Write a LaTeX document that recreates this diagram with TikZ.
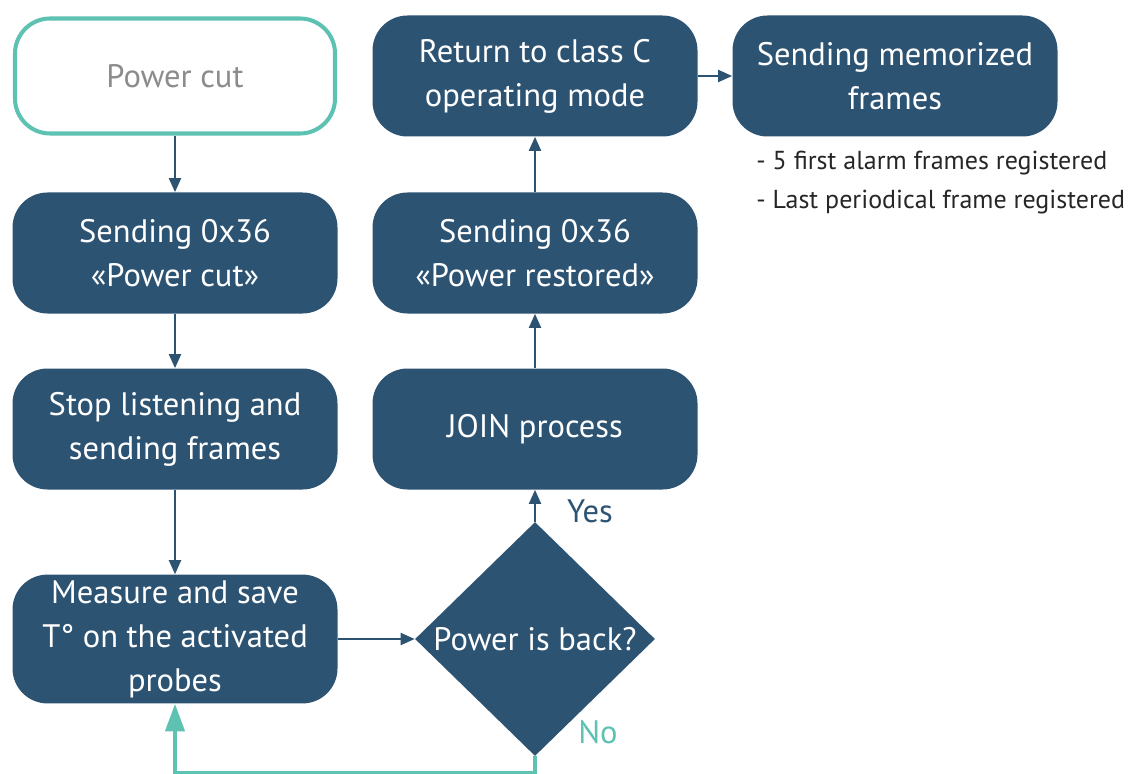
\documentclass[tikz,border=0pt]{standalone}
\usepackage{fontspec}
\setmainfont{PT Sans}
\usetikzlibrary{shapes.geometric,arrows.meta}
\definecolor{darkBlue}{HTML}{2D5373}
\definecolor{teal}{HTML}{5EC2B2}
\begin{document}
\begin{tikzpicture}[boxStyle/.style={rectangle, rounded corners=0.7cm, fill=darkBlue, text=white, minimum width=6.5cm, minimum height=2.42cm, align=center, font=\fontsize{18.5}{25}\selectfont},
                    startStyle/.style={boxStyle, fill=white, draw=teal, line width=2.3pt, text=black!45, minimum width=6.4cm, minimum height=2.3cm},
                    decisionStyle/.style={diamond, fill=darkBlue, minimum width=4.8cm, minimum height=4.68cm, inner sep=0pt},
                    arrowStyle/.style={draw=darkBlue, line width=1.1pt, -{Triangle[length=0.28cm, width=0.24cm]}},
                    loopStyle/.style={draw=teal, line width=2.3pt, -{Triangle[length=0.55cm, width=0.38cm]}}]
                    \useasboundingbox (0, 0) rectangle (22.7, -15.48);

                    \node[startStyle] (powerCut)  at ( 3.5, -1.52) {Power cut};
                    \node[boxStyle]   (sendCut)   at ( 3.5, -5.06) {Sending 0x36\\«Power cut»};
                    \node[boxStyle]   (stopListen) at ( 3.5, -8.58) {Stop listening and\\sending frames};
                    \node[boxStyle]   (measure)   at ( 3.5, -12.78) {Measure and save\\T° on the activated\\probes};

                    \node[decisionStyle, label={[text=white, font=\fontsize{18.5}{25}\selectfont]center:Power is back?}] (isBack) at (10.7, -12.78) {};

                    \node[boxStyle]   (join)      at (10.7, -8.58) {JOIN process};
                    \node[boxStyle]   (sendBack)  at (10.7, -5.06) {Sending 0x36\\«Power restored»};
                    \node[boxStyle]   (classC)    at (10.7, -1.52) {Return to class C\\operating mode};
                    \node[boxStyle]   (memFrames) at (17.9, -1.52) {Sending memorized\\frames};

                    \node[anchor=west, align=left, text=black!85, font=\fontsize{14.8}{22}\selectfont, inner sep=0pt] (notes) at (15.12, -3.65) {- 5 first alarm frames registered\\- Last periodical frame registered};

                    \node[text=darkBlue, font=\fontsize{18.5}{25}\selectfont] (yesLabel) at (11.8, -10.22) {Yes};
                    \node[text=teal, font=\fontsize{18.5}{25}\selectfont] (noLabel) at (11.96, -14.64) {No};

                    \coordinate (loopRight) at (10.7, -15.46);
                    \coordinate (loopLeft)  at ( 3.5, -15.46);

                    \draw[arrowStyle] (powerCut.south) -- (sendCut.north);
                    \draw[arrowStyle] (sendCut.south) -- (stopListen.north);
                    \draw[arrowStyle] (stopListen.south) -- (measure.north);
                    \draw[arrowStyle] (measure.east) -- (isBack.west);
                    \draw[arrowStyle] (isBack.north) -- (join.south);
                    \draw[arrowStyle] (join.north) -- (sendBack.south);
                    \draw[arrowStyle] (sendBack.north) -- (classC.south);
                    \draw[arrowStyle] (classC.east) -- (memFrames.west);
                    \draw[loopStyle] (isBack.south) -- (loopRight) -- (loopLeft) -- (measure.south);
                \end{tikzpicture}
\end{document}
